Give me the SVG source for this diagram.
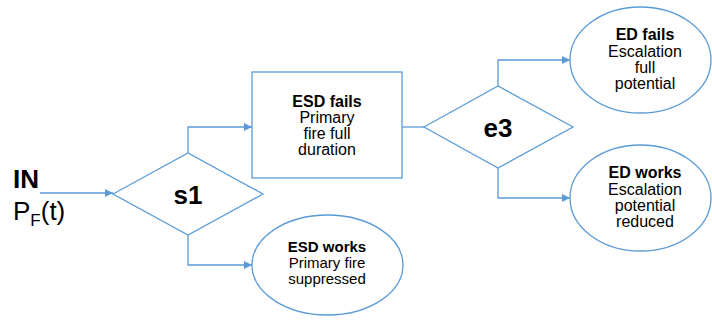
<svg xmlns="http://www.w3.org/2000/svg" width="712" height="320" viewBox="0 0 712 320">
  <defs>
    <marker id="arrow" viewBox="0 0 10 10" refX="10" refY="5" markerWidth="9" markerHeight="8" markerUnits="userSpaceOnUse" orient="auto">
      <path d="M0,0 L10,5 L0,10 Z" fill="#5B9BD5"/>
    </marker>
  </defs>
  <style>
    .shape { fill: #ffffff; stroke: #5B9BD5; stroke-width: 1.3; }
    .link { fill: none; stroke: #5B9BD5; stroke-width: 1.3; marker-end: url(#arrow); }
    .plain { fill: none; stroke: #5B9BD5; stroke-width: 1.3; }
    text { font-family: "Liberation Sans", Arial, sans-serif; fill: #000000; text-anchor: middle; }
    .big { font-size: 26px; font-weight: bold; }
    .b { font-size: 16px; font-weight: bold; }
    .t { font-size: 16px; }
    .bs { font-size: 15px; font-weight: bold; }
    .ts { font-size: 15px; }
  </style>
  <rect width="712" height="320" fill="#ffffff"/>

  <g id="connectors">
    <path class="link" d="M40,193 H113"/>
    <path class="link" d="M188,153 V127 H252"/>
    <path class="link" d="M188,235 V265 H252"/>
    <path class="plain" d="M402,127 H424"/>
    <path class="link" d="M498,86 V60 H570"/>
    <path class="link" d="M498,168 V198 H570"/>
  </g>

  <g id="input">
    <text x="13" y="188" style="text-anchor:start;font-size:26px;font-weight:bold">IN</text>
    <text x="13" y="220" style="text-anchor:start;font-size:26px">P<tspan dy="6" style="font-size:17px">F</tspan><tspan dy="-6">(t)</tspan></text>
  </g>

  <g id="s1">
    <polygon class="shape" points="113,194 188,153 263,194 188,235"/>
    <text class="big" x="188" y="204">s1</text>
  </g>

  <g id="esd-fails">
    <rect class="shape" x="252" y="72" width="150" height="106"/>
    <text class="b" x="327" y="107">ESD fails</text>
    <text class="t" x="327" y="123">Primary</text>
    <text class="t" x="327" y="139">fire full</text>
    <text class="t" x="327" y="155">duration</text>
  </g>

  <g id="esd-works">
    <ellipse class="shape" cx="327.5" cy="265" rx="75.5" ry="50"/>
    <text class="bs" x="327" y="252">ESD works</text>
    <text class="ts" x="327" y="268">Primary fire</text>
    <text class="ts" x="327" y="284">suppressed</text>
  </g>

  <g id="e3">
    <polygon class="shape" points="424,127 498,86 573,127 498,168"/>
    <text class="big" x="498" y="137">e3</text>
  </g>

  <g id="ed-fails">
    <ellipse class="shape" cx="640.5" cy="60" rx="70.5" ry="53"/>
    <text class="b" x="645" y="40">ED fails</text>
    <text class="t" x="645" y="57">Escalation</text>
    <text class="t" x="645" y="73">full</text>
    <text class="t" x="645" y="89">potential</text>
  </g>

  <g id="ed-works">
    <ellipse class="shape" cx="640.5" cy="198" rx="70.5" ry="53"/>
    <text class="b" x="645" y="178">ED works</text>
    <text class="t" x="645" y="195">Escalation</text>
    <text class="t" x="645" y="211">potential</text>
    <text class="t" x="645" y="227">reduced</text>
  </g>
</svg>
